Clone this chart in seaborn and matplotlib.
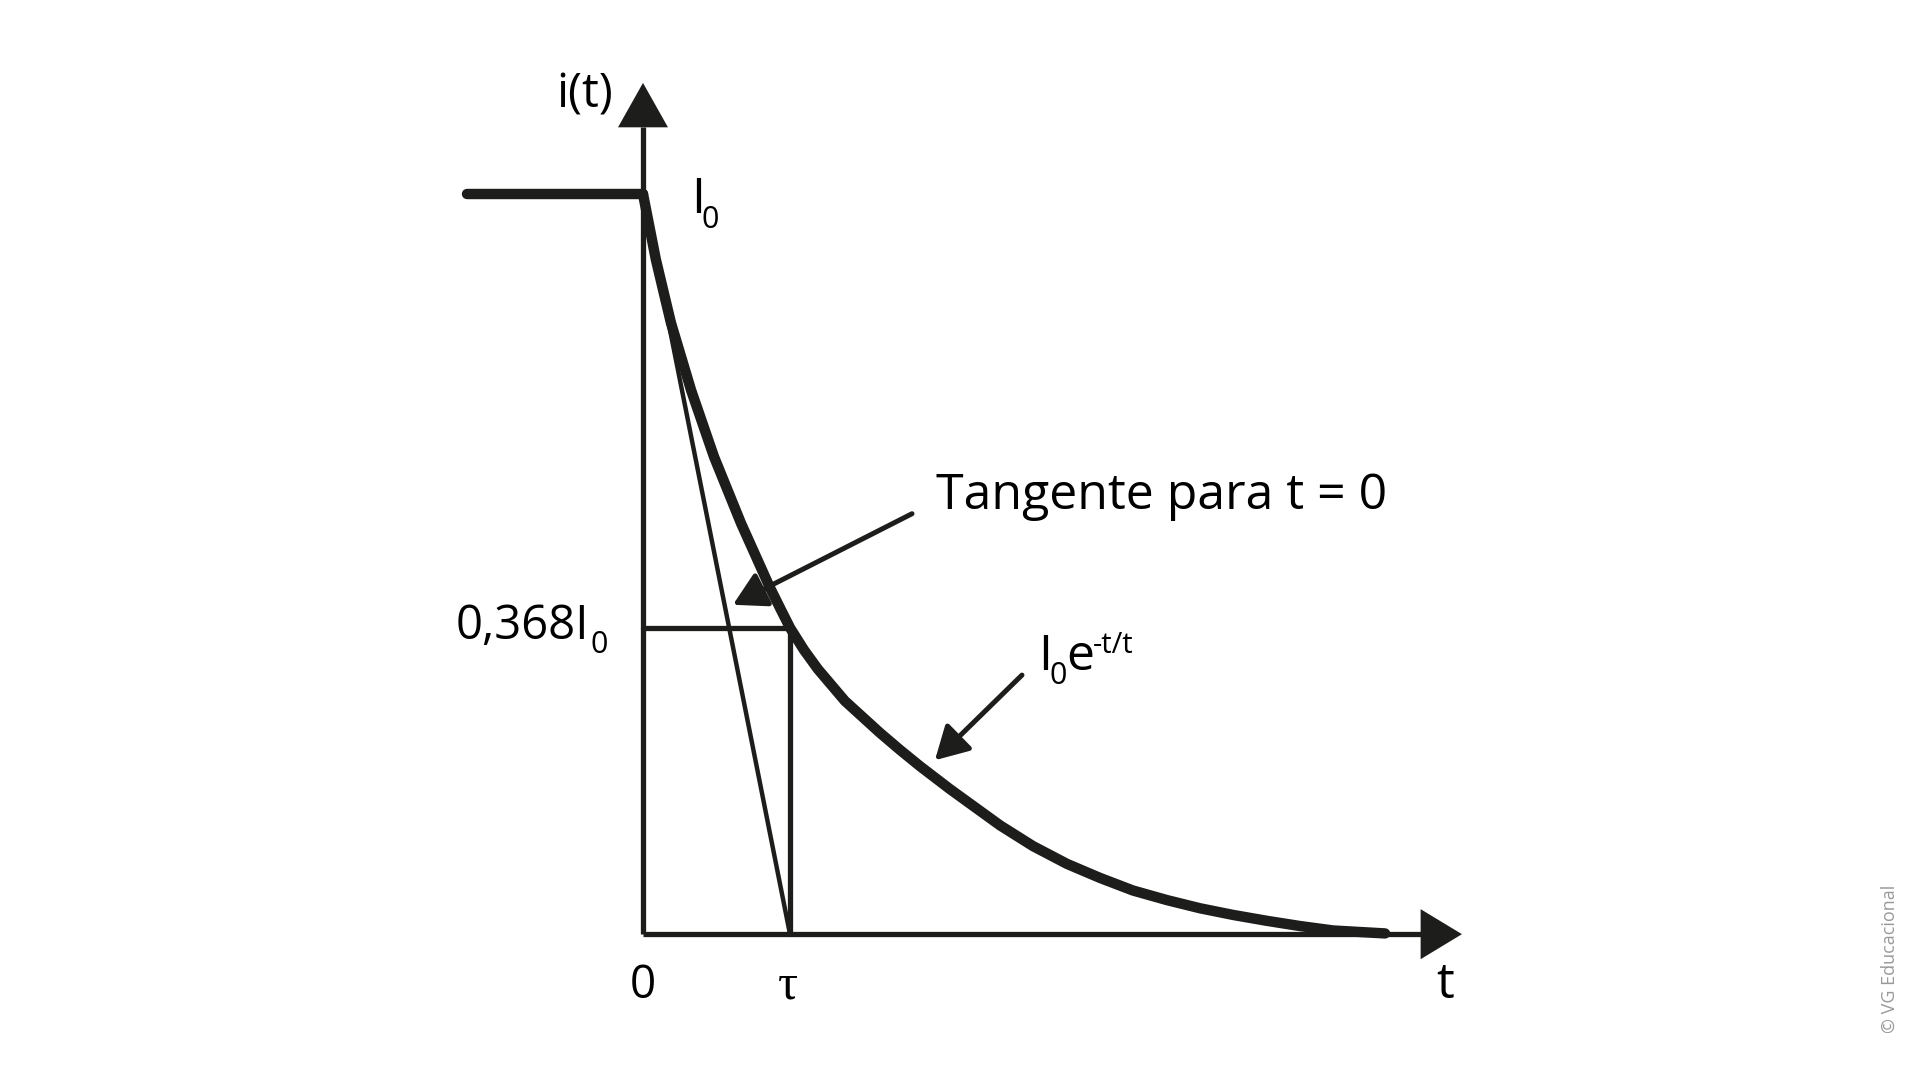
import numpy as np
import pandas as pd
import seaborn as sns
import matplotlib.pyplot as plt
from matplotlib.patches import Polygon

# curva i(t) (t em unidades de tau, i em unidades de I0)
t_curva = [0, 0.088, 0.190, 0.327, 0.483, 0.667, 0.864, 0.939, 1.000, 1.095, 1.190,
           1.374, 1.612, 1.748, 1.884, 2.088, 2.429, 2.653, 2.884, 3.109, 3.333,
           3.565, 3.789, 4.014, 4.245, 4.469, 4.694, 5.048]
i_curva = [1.000, 0.911, 0.826, 0.735, 0.645, 0.555, 0.468, 0.438, 0.414, 0.384, 0.358,
           0.315, 0.272, 0.249, 0.227, 0.196, 0.147, 0.119, 0.095, 0.076, 0.059,
           0.046, 0.035, 0.026, 0.018, 0.011, 0.005, 0.001]

# patamar antes de t = 0
t_antes = [-1.2, 0]
i_antes = [1.0, 1.0]

# tangente em t = 0
t_tangente = [0, 1.0]
i_tangente = [1.0, 0.0]

tau = 1.0
nivel = 0.414       # altura desenhada de 0,368 I0
x_max = 5.29        # fim do eixo t (base da seta)
y_max = 1.09        # fim do eixo i (base da seta)

cor = '#1d1d1b'

sns.set_theme(style='white')
plt.rcParams['font.family'] = ['Open Sans', 'DejaVu Sans']

fig = plt.figure(figsize=(19.2, 10.8), dpi=100)
ax = fig.add_axes([0, 0, 1, 1])
ax.set_xlim(-4.374, 8.687)
ax.set_ylim(-0.197, 1.262)
ax.axis('off')

# eixos
ax.plot([0, x_max], [0, 0], color=cor, lw=3.8, solid_capstyle='butt')
ax.plot([0, 0], [0, y_max], color=cor, lw=3.8, solid_capstyle='butt')
ax.add_patch(Polygon([[-0.17, y_max], [0.17, y_max], [0, 1.150]], closed=True,
                     color=cor, lw=0))
ax.add_patch(Polygon([[x_max, -0.0338], [x_max, 0.0338], [5.571, 0]], closed=True,
                     color=cor, lw=0))

# retangulo de tau e tangente
ax.plot([0, tau], [nivel, nivel], color=cor, lw=3.8)
ax.plot([tau, tau], [0, nivel], color=cor, lw=3.8)
sns.lineplot(x=t_tangente, y=i_tangente, ax=ax, color=cor, lw=3.2, sort=False)

# curva
df = pd.DataFrame({'t': t_curva, 'i': i_curva})
sns.lineplot(data=df, x='t', y='i', ax=ax, color=cor, lw=7.5, sort=False,
             solid_capstyle='round', solid_joinstyle='round')
sns.lineplot(x=t_antes, y=i_antes, ax=ax, color=cor, lw=7.5, sort=False,
             solid_capstyle='round')

# setas de anotacao
seta = dict(arrowstyle='-|>,head_length=0.8,head_width=0.45', color=cor, lw=3.6,
            mutation_scale=25, shrinkA=0, shrinkB=0)
ax.annotate('', xy=(0.612, 0.445), xytext=(1.830, 0.568), arrowprops=seta)
ax.annotate('', xy=(1.986, 0.235), xytext=(2.578, 0.350), arrowprops=seta)


def com_indice(x, y, base, dx, tam=36):
    # texto com indice "0" rebaixado
    t1 = ax.text(x, y, base, fontsize=tam, color='black', ha='left', va='baseline')
    t2 = ax.annotate('0', xy=(1, y), xycoords=(t1, 'data'), xytext=(dx, -10.5),
                     textcoords='offset points', fontsize=22, color='black',
                     ha='left', va='baseline')
    return t2


# textos
ax.text(-0.204, 1.134, 'i(t)', fontsize=34, color='black', ha='right', va='center')
com_indice(0.327, 0.974, 'I', -2.5)
com_indice(-1.276, 0.399, '0,368I', 1.0, tam=34)
ax.text(0, -0.0865, '0', fontsize=33, color='black', ha='center', va='baseline')
ax.text(tau - 0.014, -0.0865, 'τ', fontsize=36, color='black', ha='center', va='baseline',
        family=['Liberation Serif', 'DejaVu Serif'])
ax.text(5.456, -0.0865, 't', fontsize=36, color='black', ha='center', va='baseline')
ax.text(1.99, 0.574, 'Tangente para t = 0', fontsize=36, color='black', ha='left', va='baseline')
sub = com_indice(2.69, 0.357, 'I', -2.0)
letra_e = ax.annotate('e', xy=(1, 0.357), xycoords=(sub, 'data'), xytext=(-0.7, 0),
                      textcoords='offset points', fontsize=36, color='black',
                      ha='left', va='baseline')
ax.annotate('-t/t', xy=(1, 0.357), xycoords=(letra_e, 'data'), xytext=(-1, 12.5),
            textcoords='offset points', fontsize=21, color='black', ha='left', va='baseline')
ax.text(8.483, -0.033, '© VG Educacional', fontsize=13, color='#9a9a9a', rotation=90,
        ha='center', va='center')

fig.savefig('out.png', dpi=100, facecolor='white')
